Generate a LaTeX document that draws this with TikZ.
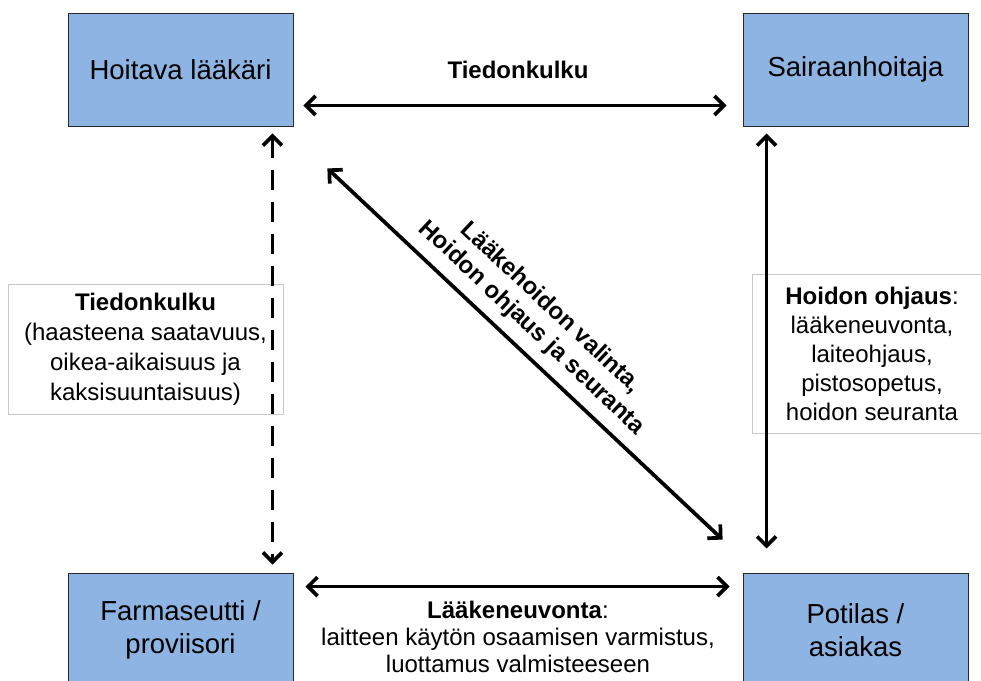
\documentclass[tikz,border=0pt]{standalone}
\usepackage{fontspec}
\setmainfont{Liberation Sans}
\usetikzlibrary{arrows.meta,calc}
\definecolor{boxblue}{RGB}{142,180,227}
\definecolor{boxline}{RGB}{40,40,40}
\definecolor{lblline}{RGB}{200,200,200}
\begin{document}
\begin{tikzpicture}[x=1pt,y=-1pt,
  actor/.style={draw=boxline, line width=0.8pt, fill=boxblue, minimum width=225pt, minimum height=113pt, inner sep=0pt, align=center, font=\fontsize{27.5}{33}\selectfont},
  lbox/.style={draw=lblline, line width=0.8pt, fill=white, inner sep=0pt, align=center},
  lbl/.style={align=center, text=black},
  arr/.style={line width=3.7pt, {Straight Barb[length=9.5pt,width=19pt]}-{Straight Barb[length=9.5pt,width=19pt]}},
]
\fill[white] (0,0) rectangle (981,680);
\useasboundingbox (0,0) rectangle (981,680);

% actor boxes
\node[actor] (hl) at (180.5,69.5) {Hoitava lääkäri};
\node[actor] (sh) at (855.5,69.5) {Sairaanhoitaja};
\node[actor, minimum height=114pt] (fa) at (180.5,630) {Farmaseutti /\\proviisori};
\node[actor, minimum height=114pt] (pa) at (855.5,630) {Potilas /\\asiakas};

% side label boxes
\node[lbox, minimum width=275pt, minimum height=130pt, font=\fontsize{24}{30}\selectfont] (lb) at (145.5,349)
  {\textbf{Tiedonkulku}\\(haasteena saatavuus,\\oikea-aikaisuus ja\\kaksisuuntaisuus)};
\node[lbox, minimum width=240pt, minimum height=159pt, font=\fontsize{24}{29}\selectfont] (rb) at (872,353.5)
  {\textbf{Hoidon ohjaus}:\\lääkeneuvonta,\\laiteohjaus,\\pistosopetus,\\hoidon seuranta};

% connectors
\draw[arr] ([shift={(10,36)}]hl.east) -- ([shift={(-16,36)}]sh.west);
\draw[arr] ([shift={(24,7)}]sh.south west) -- ([shift={(24,-24)}]pa.north west);
\draw[arr, dash pattern=on 20pt off 12pt] ([shift={(-21,7)}]hl.south east) -- ([shift={(-21,-8)}]fa.north east);
\draw[arr] ([shift={(12,14)}]fa.north east) -- ([shift={(-13,14)}]pa.north west);
\draw[arr] ([shift={(34,42)}]hl.south east) -- ([shift={(-20,-33)}]pa.north west);

% connector labels
\node[lbl, font=\bfseries\fontsize{24}{29}\selectfont] (tk) at (518,70) {Tiedonkulku};
\node[lbl, font=\fontsize{24}{27}\selectfont] (ln) at (518,637)
  {\textbf{Lääkeneuvonta}:\\laitteen käytön osaamisen varmistus,\\luottamus valmisteeseen};
\node[lbl, font=\bfseries\fontsize{24}{28}\selectfont, rotate=-43.2] (dg) at (541,318)
  {Lääkehoidon valinta,\\Hoidon ohjaus ja seuranta};
\end{tikzpicture}
\end{document}
